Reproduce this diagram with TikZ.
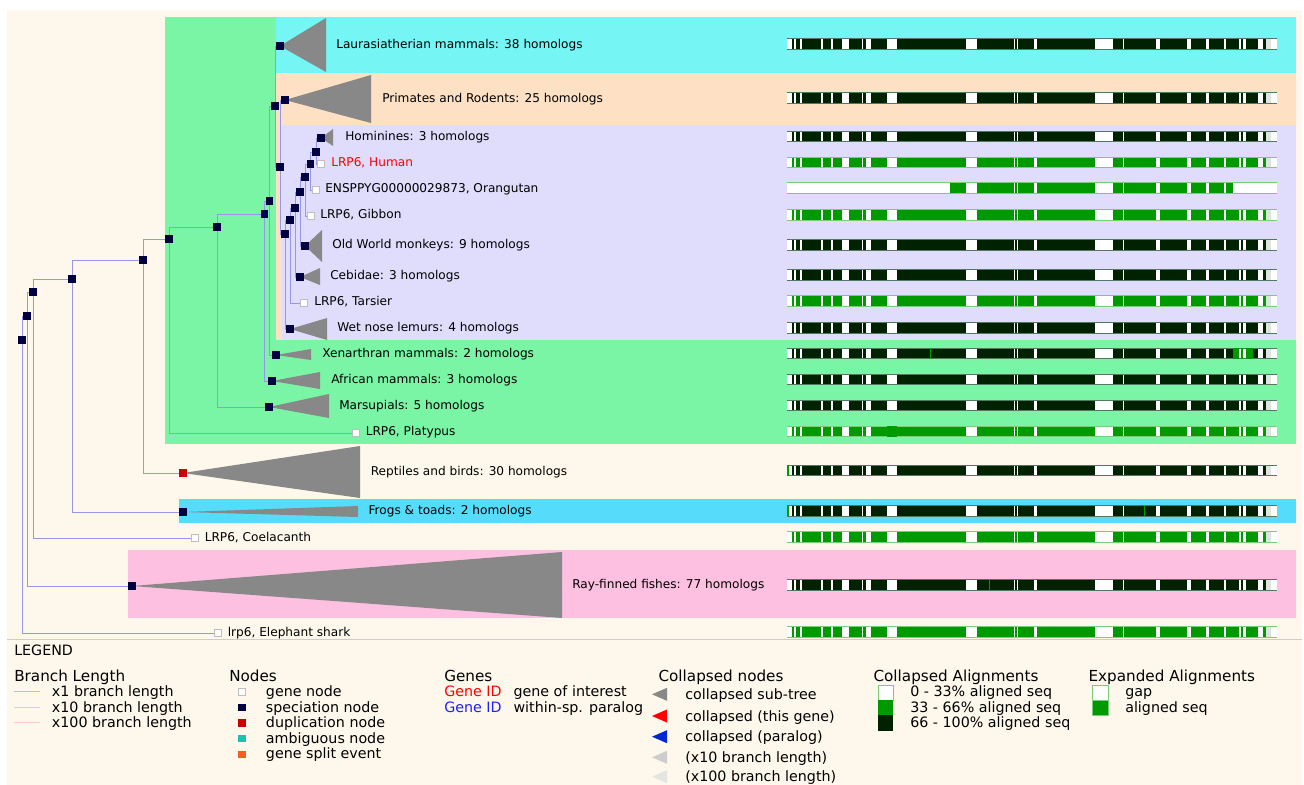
\documentclass[tikz,border=0pt]{standalone}
\usepackage{fontspec}
\setmainfont{DejaVu Sans}
\pgfdeclarelayer{bands}
\pgfdeclarelayer{branches}
\pgfsetlayers{bands,branches,main}
\definecolor{cream}{RGB}{253,248,235}
\definecolor{bandgreen}{RGB}{122,245,165}
\definecolor{bandcyan}{RGB}{118,245,245}
\definecolor{bandpeach}{RGB}{254,224,196}
\definecolor{bandlav}{RGB}{224,220,252}
\definecolor{bandblue}{RGB}{85,220,250}
\definecolor{bandpink}{RGB}{254,192,224}
\definecolor{trigray}{RGB}{136,136,136}
\definecolor{navy}{RGB}{0,0,64}
\definecolor{dupred}{RGB}{204,0,0}
\definecolor{ambteal}{RGB}{32,192,176}
\definecolor{splitorange}{RGB}{240,96,32}
\definecolor{nodegray}{RGB}{190,190,190}
\definecolor{branchblue}{RGB}{150,150,235}
\definecolor{aldark}{RGB}{0,34,0}
\definecolor{aldarkedge}{RGB}{80,120,100}
\definecolor{algreen}{RGB}{0,153,0}
\definecolor{algreenedge}{RGB}{120,205,120}
\definecolor{gapgray}{RGB}{222,228,222}
\definecolor{sepgray}{RGB}{205,205,205}
\definecolor{geneblue}{RGB}{30,30,255}
\definecolor{blx1}{RGB}{185,185,240}
\definecolor{blx10}{RGB}{205,205,245}
\definecolor{blx100}{RGB}{250,200,210}
\definecolor{cnblue}{RGB}{0,40,210}
\definecolor{cnlight}{RGB}{205,205,205}
\definecolor{cnlighter}{RGB}{228,228,225}
\tikzset{
  tnspec/.style={rectangle, fill=navy, draw=none, minimum size=5.3pt, inner sep=0pt, outer sep=0pt},
  tngene/.style={rectangle, fill=white, draw=nodegray, line width=0.4pt, minimum size=5pt, inner sep=0pt, outer sep=0pt},
  tndup/.style={rectangle, fill=dupred, draw=none, minimum size=5.3pt, inner sep=0pt, outer sep=0pt},
  tnlab/.style={anchor=west, font=\fontsize{9.1}{11}\selectfont, text height=6.6pt, text depth=0pt, inner sep=0pt},
  tnbranch/.style={draw=branchblue, line width=0.7pt},
  tntri/.style={fill=trigray},
  leghead/.style={anchor=west, font=\fontsize{11.4}{13}\selectfont, text height=8.3pt, text depth=0pt, inner sep=0pt},
  legitem/.style={anchor=west, font=\fontsize{10.7}{12}\selectfont, text height=7.8pt, text depth=0pt, inner sep=0pt},
  legsq/.style={rectangle, minimum size=5.3pt, inner sep=0pt, draw=none},
}
\def\gaplist{787/792,794/796,800/802,820.7/823.3,830.7/833.3,841.7/849,861.7/863.3,866/871.3,886.7/896.7,965.7/976.7,1014.3/1015.3,1017/1018.3,1034/1037.3,1095/1113.3,1122.7/1124,1155.7/1160,1187.3/1190.7,1206/1208.7,1224/1226,1239.3/1241,1243.3/1245.7,1257.7/1263.3,1271/1277}
% y, fill, edge, x0, x1
\newcommand{\alnbar}[5]{%
  \fill[white] (787,#1-5.2) rectangle (1277,#1+5.2);
  \fill[#2] (#4,#1-5.2) rectangle (#5,#1+5.2);
  \foreach \ga/\gb in \gaplist {\fill[white] (\ga,#1-5.2) rectangle (\gb,#1+5.2);}
  \ifdim #5pt>1270pt \fill[gapgray] (1266,#1-5.2) rectangle (1271,#1+5.2);\fi
  \draw[#3, line width=0.6pt] (787,#1-5.2) -- (1277,#1-5.2) (787,#1+5.2) -- (1277,#1+5.2);
}
\begin{document}
\begin{tikzpicture}[x=0.75pt,y=-0.75pt]
\useasboundingbox (0,0) rectangle (1304,785);
\begin{pgfonlayer}{bands}
  \fill[white] (0,0) rectangle (1304,785);
  \fill[cream] (7,10) rectangle (1302,785);
  \fill[bandgreen] (165,17) rectangle (1296,444);
  \fill[bandcyan] (276,17) rectangle (1296,73);
  \fill[bandpeach] (276,73) rectangle (1296,340);
  \fill[bandlav] (282,125) rectangle (1296,340);
  \fill[bandblue] (179,499) rectangle (1296,523);
  \fill[bandpink] (128,550) rectangle (1296,618);
  \draw[sepgray, line width=0.6pt] (7,639) -- (1302,639);
\end{pgfonlayer}

% internal nodes
\node[tnspec] (R) at (22,340) {};
\node[tnspec] (A) at (27,316) {};
\node[tnspec] (B) at (33,292) {};
\node[tnspec] (C) at (72,279) {};
\node[tnspec] (D) at (143,260) {};
\node[tnspec] (E) at (169,239) {};
\node[tnspec] (F) at (217,227) {};
\node[tnspec] (G) at (264.5,214) {};
\node[tnspec] (H) at (269.5,201) {};
\node[tnspec] (I) at (275,106) {};
\node[tnspec] (J) at (280,167) {};
\node[tnspec] (K) at (285,234) {};
\node[tnspec] (L) at (290,220) {};
\node[tnspec] (M) at (295,208) {};
\node[tnspec] (N) at (300,192) {};
\node[tnspec] (O) at (305,177) {};
\node[tnspec] (P) at (310.5,164) {};
\node[tnspec] (Q) at (316,152) {};
% leaves
\node[tnspec] (laur) at (280,46) {};
\node[tnspec] (prim) at (285,100) {};
\node[tnspec] (homi) at (321,138) {};
\node[tngene] (human) at (321,164) {};
\node[tngene] (orang) at (316,190) {};
\node[tngene] (gibbon) at (311,216) {};
\node[tnspec] (owm) at (305,246) {};
\node[tnspec] (cebi) at (300,277) {};
\node[tngene] (tars) at (304,303) {};
\node[tnspec] (lemur) at (290,329) {};
\node[tnspec] (xen) at (276,355) {};
\node[tnspec] (afr) at (272,381) {};
\node[tnspec] (mars) at (269,407) {};
\node[tngene] (platy) at (356,433) {};
\node[tndup] (rept) at (183,473) {};
\node[tnspec] (frog) at (183,512) {};
\node[tngene] (coel) at (195,538) {};
\node[tnspec] (ray) at (132,586) {};
\node[tngene] (shark) at (218,633) {};

\begin{pgfonlayer}{branches}
  \foreach \p/\c in {R/A,R/shark,A/B,A/ray,B/C,B/coel,C/D,C/frog,D/E,D/rept,E/F,E/platy,F/G,F/mars,G/H,G/afr,H/I,H/xen,I/laur,I/J,J/prim,J/K,K/L,K/lemur,L/M,L/tars,M/N,M/cebi,N/O,N/owm,O/P,O/gibbon,P/Q,P/orang,Q/homi,Q/human}
    \draw[tnbranch] (\p.center) |- (\c.center);
  \fill[tntri] (laur.center) -- (326,18) -- (326,72) -- cycle;
  \fill[tntri] (prim.center) -- (371,75) -- (371,123) -- cycle;
  \fill[tntri] (homi.center) -- (333,129) -- (333,146) -- cycle;
  \fill[tntri] (owm.center) -- (322,230) -- (322,262) -- cycle;
  \fill[tntri] (cebi.center) -- (320,268) -- (320,285) -- cycle;
  \fill[tntri] (lemur.center) -- (327,318) -- (327,340) -- cycle;
  \fill[tntri] (xen.center) -- (311,349) -- (311,360) -- cycle;
  \fill[tntri] (afr.center) -- (320,372) -- (320,389) -- cycle;
  \fill[tntri] (mars.center) -- (329,394) -- (329,418) -- cycle;
  \fill[tntri] (rept.center) -- (360,446) -- (360,498) -- cycle;
  \fill[tntri] (frog.center) -- (358,506) -- (358,517) -- cycle;
  \fill[tntri] (ray.center) -- (562,552) -- (562,618) -- cycle;
\end{pgfonlayer}

% labels
\node[tnlab] (tlaur) at (336,44) {Laurasiatherian mammals: 38 homologs};
\node[tnlab] (tprim) at (382,98) {Primates and Rodents: 25 homologs};
\node[tnlab] (thomi) at (345,136) {Hominines: 3 homologs};
\node[tnlab, text=red] (thuman) at (331,162.3) {LRP6, Human};
\node[tnlab] (torang) at (325,188.3) {ENSPPYG00000029873, Orangutan};
\node[tnlab] (tgibbon) at (320,214) {LRP6, Gibbon};
\node[tnlab] (towm) at (332,244.3) {Old World monkeys: 9 homologs};
\node[tnlab] (tcebi) at (330,275) {Cebidae: 3 homologs};
\node[tnlab] (ttars) at (314,301) {LRP6, Tarsier};
\node[tnlab] (tlemur) at (337,327.3) {Wet nose lemurs: 4 homologs};
\node[tnlab] (txen) at (322,353.3) {Xenarthran mammals: 2 homologs};
\node[tnlab] (tafr) at (331,379.3) {African mammals: 3 homologs};
\node[tnlab] (tmars) at (339,405) {Marsupials: 5 homologs};
\node[tnlab] (tplaty) at (365.5,431) {LRP6, Platypus};
\node[tnlab] (trept) at (370.5,470.7) {Reptiles and birds: 30 homologs};
\node[tnlab] (tfrog) at (368.3,510.3) {Frogs \& toads: 2 homologs};
\node[tnlab] (tcoel) at (204.5,536.7) {LRP6, Coelacanth};
\node[tnlab] (tray) at (572,584) {Ray-finned fishes: 77 homologs};
\node[tnlab] (tshark) at (227.5,631.7) {lrp6, Elephant shark};

% alignments
\alnbar{44}{aldark}{aldarkedge}{787}{1277}
\alnbar{98}{aldark}{aldarkedge}{787}{1277}
\alnbar{136.3}{aldark}{aldarkedge}{787}{1277}
\alnbar{162.2}{algreen}{algreenedge}{787}{1277}
\alnbar{188}{algreen}{algreenedge}{950}{1233}
\alnbar{214.7}{algreen}{algreenedge}{787}{1277}
\alnbar{244.7}{aldark}{aldarkedge}{787}{1277}
\alnbar{275}{aldark}{aldarkedge}{787}{1277}
\alnbar{301}{algreen}{algreenedge}{787}{1277}
\alnbar{328}{aldark}{aldarkedge}{787}{1277}
\alnbar{353.5}{aldark}{aldarkedge}{787}{1277}
\fill[algreen] (929.5,348.3) rectangle (931,358.7);
\fill[algreen] (1233,348.3) rectangle (1239.3,358.7);
\fill[algreen] (1241,348.3) rectangle (1243.3,358.7);
\fill[algreen] (1245.7,348.3) rectangle (1253,358.7);
\alnbar{379.5}{aldark}{aldarkedge}{787}{1277}
\alnbar{405.5}{aldark}{aldarkedge}{787}{1277}
\alnbar{431.5}{algreen}{algreenedge}{787}{1277}
\fill[algreen] (886.7,426.3) rectangle (896.7,436.7);
\alnbar{470.5}{aldark}{aldarkedge}{787}{1277}
\fill[algreen] (787,465.3) rectangle (789,475.7);
\alnbar{511}{aldark}{aldarkedge}{787}{1277}
\fill[algreen] (787,505.8) rectangle (789,516.2);
\fill[algreen] (1143.8,505.8) rectangle (1145,516.2);
\alnbar{537}{algreen}{algreenedge}{787}{1277}
\alnbar{584.7}{aldark}{aldarkedge}{787}{1277}
\fill[algreen] (988.8,579.5) rectangle (990,589.9);
\alnbar{632}{algreen}{algreenedge}{787}{1277}

% legend
\node[legitem] (lgtitle) at (14,650) {LEGEND};
\node[leghead] (lgbl) at (14,675.5) {Branch Length};
\node[legitem] (lgbl1) at (51.7,691.7) {x1 branch length};
\node[legitem] (lgbl2) at (51.7,707.3) {x10 branch length};
\node[legitem] (lgbl3) at (51.7,722.7) {x100 branch length};
\draw[blx1, line width=0.7pt] (14,691.7) -- (40,691.7);
\draw[blx10, line width=0.7pt] (14,707.3) -- (40,707.3);
\draw[blx100, line width=0.7pt] (14,722.7) -- (40,722.7);

\node[leghead] (lgnodes) at (229,675.5) {Nodes};
\node[tngene] (lgn1) at (242,692) {};
\node[legsq, fill=navy] (lgn2) at (242,707.5) {};
\node[legsq, fill=dupred] (lgn3) at (242,723) {};
\node[legsq, fill=ambteal] (lgn4) at (242,738.7) {};
\node[legsq, fill=splitorange] (lgn5) at (242,754.3) {};
\node[legitem] (lgnt1) at (265.7,691.7) {gene node};
\node[legitem] (lgnt2) at (265.7,707.3) {speciation node};
\node[legitem] (lgnt3) at (265.7,722.7) {duplication node};
\node[legitem] (lgnt4) at (265.7,738.3) {ambiguous node};
\node[legitem] (lgnt5) at (265.7,753.7) {gene split event};

\node[leghead] (lggenes) at (444,675.5) {Genes};
\node[legitem, text=red] (lgg1) at (444,691.7) {Gene ID};
\node[legitem, text=geneblue] (lgg2) at (444,707.3) {Gene ID};
\node[legitem] (lggt1) at (513.3,691.7) {gene of interest};
\node[legitem] (lggt2) at (513.3,707.3) {within-sp. paralog};

\node[leghead] (lgcn) at (658.3,675.5) {Collapsed nodes};
\fill[trigray] (652,694.3) -- (667,687.8) -- (667,700.8) -- cycle;
\fill[red] (652,716) -- (667,709.5) -- (667,722.5) -- cycle;
\fill[cnblue] (652,736.7) -- (667,730.2) -- (667,743.2) -- cycle;
\fill[cnlight] (652,757.3) -- (667,750.8) -- (667,763.8) -- cycle;
\fill[cnlighter] (652,776.7) -- (667,770.2) -- (667,783.2) -- cycle;
\node[legitem] (lgct1) at (685,694.3) {collapsed sub-tree};
\node[legitem] (lgct2) at (685,716) {collapsed (this gene)};
\node[legitem] (lgct3) at (685,736.7) {collapsed (paralog)};
\node[legitem] (lgct4) at (685,757.3) {(x10 branch length)};
\node[legitem] (lgct5) at (685,776.7) {(x100 branch length)};

\node[leghead] (lgca) at (873.3,675.5) {Collapsed Alignments};
\filldraw[fill=white, draw=algreenedge, line width=0.4pt] (878.3,685) rectangle (893.3,700);
\fill[algreen] (878.3,700) rectangle (893.3,715);
\fill[aldark] (878.3,715) rectangle (893.3,731);
\node[legitem] (lgcat1) at (910,691.7) {0 - 33\% aligned seq};
\node[legitem] (lgcat2) at (910,707.3) {33 - 66\% aligned seq};
\node[legitem] (lgcat3) at (910,722.7) {66 - 100\% aligned seq};

\node[leghead] (lgea) at (1088.3,675.5) {Expanded Alignments};
\filldraw[fill=white, draw=algreenedge, line width=0.4pt] (1092.7,685) rectangle (1108.3,700);
\filldraw[fill=algreen, draw=algreenedge, line width=0.4pt] (1092.7,700) rectangle (1108.3,715);
\node[legitem] (lgeat1) at (1125,691.7) {gap};
\node[legitem] (lgeat2) at (1125,707.3) {aligned seq};
\end{tikzpicture}
\end{document}
